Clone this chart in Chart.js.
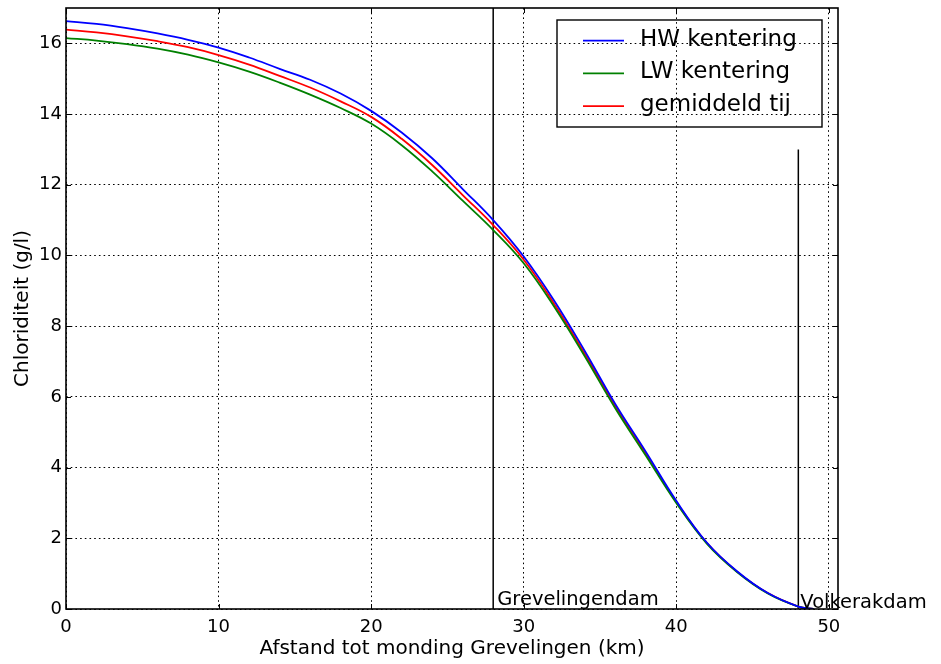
<!DOCTYPE html>
<html>
<head>
<meta charset="utf-8">
<script src="https://cdn.jsdelivr.net/npm/chart.js@4.4.0/dist/chart.umd.min.js"></script>
<style>
  html, body { margin: 0; padding: 0; background: #fff; }
</style>
</head>
<body>
<canvas id="chlChart" width="941" height="664"></canvas>
<script>
// chloride along the Grevelingen, km from the mouth
const km = [0, 2, 4, 6, 8, 10, 12, 14, 16, 18, 20, 22, 24, 26, 28, 30, 32, 34, 36, 38, 40, 42, 44, 46, 48, 49];
const hwKentering  = [16.63, 16.55, 16.43, 16.28, 16.10, 15.88, 15.60, 15.28, 14.97, 14.58, 14.09, 13.48, 12.75, 11.88, 11.00, 9.97, 8.72, 7.30, 5.80, 4.45, 3.06, 1.88, 1.06, 0.45, 0.07, 0.00];
const lwKentering  = [16.15, 16.08, 15.98, 15.85, 15.68, 15.46, 15.20, 14.89, 14.55, 14.17, 13.73, 13.12, 12.38, 11.55, 10.72, 9.78, 8.55, 7.15, 5.68, 4.34, 3.00, 1.85, 1.04, 0.44, 0.07, 0.00];
const gemiddeldTij = [16.39, 16.31, 16.20, 16.06, 15.89, 15.67, 15.40, 15.08, 14.75, 14.36, 13.92, 13.30, 12.56, 11.71, 10.86, 9.88, 8.63, 7.22, 5.74, 4.40, 3.03, 1.87, 1.05, 0.45, 0.07, 0.00];
const seriesLabels = ['HW kentering', 'LW kentering', 'gemiddeld tij'];
const seriesColors = ['#0000ff', '#008000', '#ff0000'];

// dams: position (km) and top of their marker line (g/l)
const damNames = ['Grevelingendam', 'Volkerakdam'];
const damKm = [28, 48];
const damTop = [17, 13];

const xTicks = [0, 10, 20, 30, 40, 50];
const yTicks = [0, 2, 4, 6, 8, 10, 12, 14, 16];

const FONT = '"DejaVu Sans", Verdana, sans-serif';
Chart.defaults.font.family = FONT;
Chart.defaults.color = '#000';

const toPts = ys => km.map((k, i) => ({x: k, y: ys[i]}));

const curves = [hwKentering, lwKentering, gemiddeldTij].map((ys, i) => ({
  label: seriesLabels[i],
  data: toPts(ys),
  borderColor: seriesColors[i],
  borderWidth: 1.8,
  pointRadius: 0,
  tension: 0.4,
  fill: false
}));

const damLines = damNames.map((name, i) => ({
  label: name,
  data: [{x: damKm[i], y: 0}, {x: damKm[i], y: damTop[i]}],
  borderColor: '#000',
  borderWidth: 1.5,
  pointRadius: 0,
  fill: false
}));

// frame, inward tick marks, dam names and the boxed legend
const frameAndLegend = {
  id: 'frameAndLegend',
  afterDraw(chart) {
    const {ctx, chartArea: a, scales: {x, y}} = chart;
    const seg = (x1, y1, x2, y2) => { ctx.beginPath(); ctx.moveTo(x1, y1); ctx.lineTo(x2, y2); ctx.stroke(); };
    ctx.save();
    ctx.strokeStyle = '#000';
    ctx.lineWidth = 1;
    xTicks.forEach(v => {
      const px = Math.round(x.getPixelForValue(v)) + 0.5;
      seg(px, a.bottom, px, a.bottom - 5);
      seg(px, a.top, px, a.top + 5);
    });
    yTicks.forEach(v => {
      const py = Math.round(y.getPixelForValue(v)) + 0.5;
      seg(a.left, py, a.left + 5, py);
      seg(a.right, py, a.right - 5, py);
    });
    ctx.lineWidth = 1.6;
    ctx.strokeRect(a.left, a.top, a.right - a.left, a.bottom - a.top);

    ctx.fillStyle = '#000';
    ctx.font = '19.5px ' + FONT;
    ctx.textAlign = 'left';
    ctx.textBaseline = 'alphabetic';
    ctx.fillText(damNames[0], x.getPixelForValue(damKm[0]) + 4, y.getPixelForValue(0) - 4);
    ctx.fillText(damNames[1], x.getPixelForValue(damKm[1]) + 2, y.getPixelForValue(0) - 1);

    // legend box
    const bw = 265, bh = 107;
    const bx = a.right - 16 - bw, by = a.top + 12;
    ctx.lineWidth = 1.4;
    ctx.strokeRect(bx, by, bw, bh);
    ctx.font = '23px ' + FONT;
    seriesLabels.forEach((lab, i) => {
      const ly = by + 20.7 + i * 32.7;
      ctx.strokeStyle = seriesColors[i];
      ctx.lineWidth = 1.8;
      seg(bx + 26, ly, bx + 67, ly);
      ctx.fillText(lab, bx + 83, ly + 5);
    });
    ctx.restore();
  }
};

new Chart(document.getElementById('chlChart'), {
  type: 'line',
  data: {datasets: curves.concat(damLines)},
  options: {
    responsive: false,
    animation: false,
    devicePixelRatio: 1,
    layout: {padding: {left: 0, right: 103, top: 8, bottom: 0}},
    plugins: {legend: {display: false}, tooltip: {enabled: false}},
    scales: {
      x: {
        type: 'linear',
        min: 0,
        max: 50.6,
        afterBuildTicks: s => { s.ticks = xTicks.map(v => ({value: v})); },
        afterFit: s => { s.height = 55; s.paddingLeft = 0; s.paddingRight = 0; },
        grid: {color: '#000', lineWidth: 1, drawTicks: false},
        border: {display: false, dash: [1.6, 3.1]},
        ticks: {font: {size: 18}, padding: 8, maxRotation: 0},
        title: {display: true, text: 'Afstand tot monding Grevelingen (km)', font: {size: 20, lineHeight: 1.2}, padding: {top: 3, bottom: 3}}
      },
      y: {
        min: 0,
        max: 17,
        afterBuildTicks: s => { s.ticks = yTicks.map(v => ({value: v})); },
        afterFit: s => { s.width = 66; s.paddingTop = 0; s.paddingBottom = 0; },
        grid: {color: '#000', lineWidth: 1, drawTicks: false},
        border: {display: false, dash: [1.6, 3.1]},
        ticks: {font: {size: 18}, padding: 4},
        title: {display: true, text: 'Chloriditeit (g/l)', font: {size: 20, lineHeight: 1.2}, padding: {top: 11, bottom: 11}}
      }
    }
  },
  plugins: [frameAndLegend]
});
</script>
</body>
</html>
